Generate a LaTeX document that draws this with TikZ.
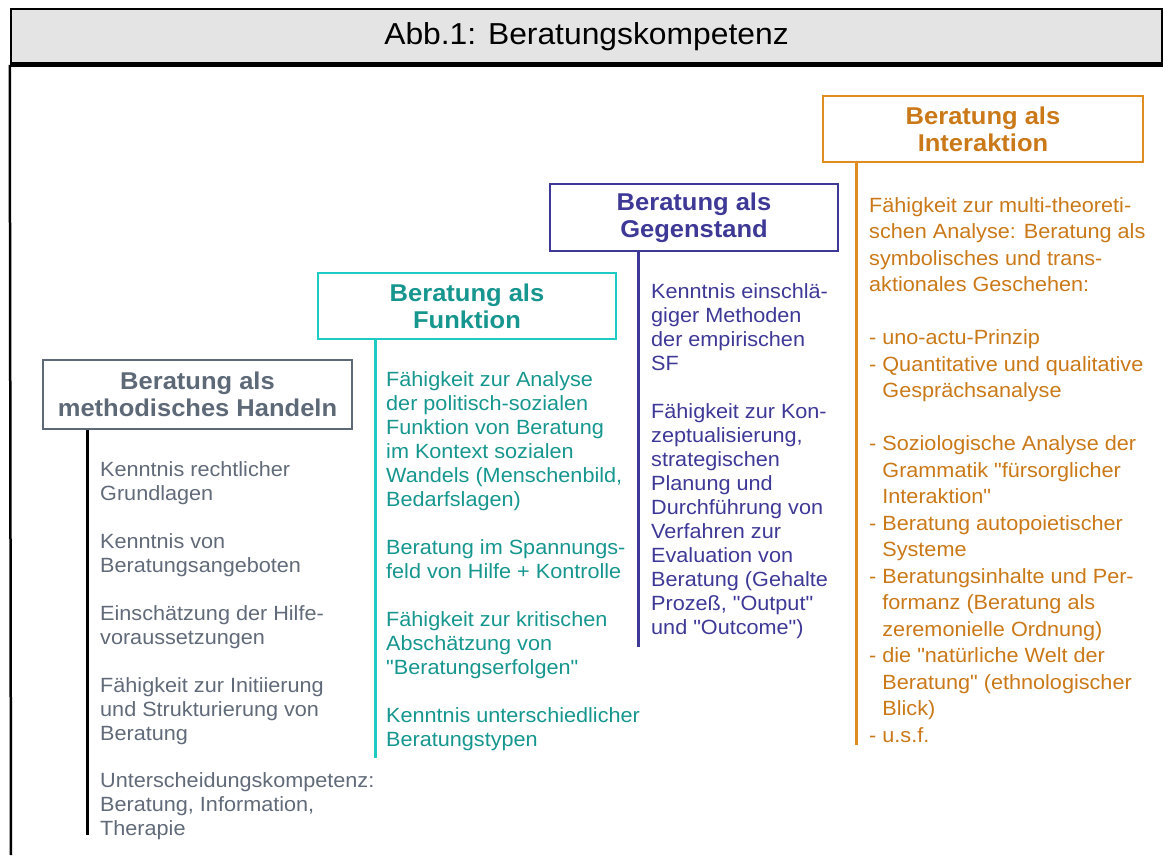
\documentclass[tikz,border=0pt]{standalone}
\usepackage{fontspec}
\setmainfont{Liberation Sans}[FakeStretch=1.05, Ligatures=TeXOff]

\definecolor{grayline}{RGB}{94,105,120}
\definecolor{graytext}{RGB}{96,106,120}
\definecolor{tealline}{RGB}{30,203,195}
\definecolor{tealtext}{RGB}{22,150,142}
\definecolor{purpleline}{RGB}{62,56,150}
\definecolor{orangeline}{RGB}{224,140,32}
\definecolor{orangetext}{RGB}{202,120,24}
\definecolor{titlefill}{RGB}{228,228,228}

\newcommand{\hangin}{\phantom{-\ }}

\tikzset{
	heading/.style={draw, line width=2.5pt, align=center, inner sep=0pt, font=\bfseries\fontsize{24.3}{27}\selectfont},
	comp/.style={anchor=north west, inner sep=0pt, align=left, font=\fontsize{20.6}{24}\selectfont, execute at begin node=\rule{0pt}{15.5pt}},
	widecomp/.style={comp, font=\fontsize{20.6}{26.5}\selectfont},
	stem/.style={line width=3pt}
}

\begin{document}
\begin{tikzpicture}[x=1pt, y=-1pt]
	\useasboundingbox (0,0) rectangle (1164,855);
	
	% frame and title
	\node[draw, line width=2.5pt, fill=titlefill, minimum width=1151pt, minimum height=54.5pt, inner sep=0pt, font=\fontsize{30.3}{34}\selectfont] (title) at (586.5,36.25) {Abb.1: Beratungskompetenz};
	\coordinate (frame_end) at (11,855);
	\draw[line width=2.5pt] (title.south west) -- (frame_end);
	\draw[line width=4.5pt] (title.south west) -- (title.south east);
	
	% the four headings
	\node[heading, draw=grayline, text=grayline, minimum width=309pt, minimum height=69pt] (handeln) at (197.5,394.5) {Beratung als\\methodisches Handeln};
	\node[heading, draw=tealline, text=tealtext, minimum width=298pt, minimum height=66pt] (funktion) at (467,306) {Beratung als\\Funktion};
	\node[heading, draw=purpleline, text=purpleline, minimum width=288pt, minimum height=67pt] (gegenstand) at (694,217.5) {Beratung als\\Gegenstand};
	\node[heading, draw=orangeline, text=orangetext, minimum width=320pt, minimum height=66pt] (interaktion) at (983,129) {Beratung als\\Interaktion};
	
	% stems
	\coordinate (handeln_end) at (87.5,835);
	\coordinate (funktion_end) at (375,758);
	\coordinate (gegenstand_end) at (638,647);
	\coordinate (interaktion_end) at (856,745);
	\draw[stem, black] (handeln.south -| handeln_end) -- (handeln_end);
	\draw[stem, tealline] (funktion.south -| funktion_end) -- (funktion_end);
	\draw[stem, purpleline] (gegenstand.south -| gegenstand_end) -- (gegenstand_end);
	\draw[stem, orangeline] (interaktion.south -| interaktion_end) -- (interaktion_end);
	
	% methodisches Handeln
	\node[comp, text=graytext] (h1) at (100,461) {Kenntnis rechtlicher\\Grundlagen};
	\node[comp, text=graytext] (h2) at (100,533) {Kenntnis von\\Beratungsangeboten};
	\node[comp, text=graytext] (h3) at (100,605) {Einschätzung der Hilfe-\\voraussetzungen};
	\node[comp, text=graytext] (h4) at (100,677) {Fähigkeit zur Initiierung\\und Strukturierung von\\Beratung};
	\node[comp, text=graytext] (h5) at (100,772) {Unterscheidungskompetenz:\\Beratung, Information,\\Therapie};
	
	% Funktion
	\node[comp, text=tealtext] (f1) at (386,371) {Fähigkeit zur Analyse\\der politisch-sozialen\\Funktion von Beratung\\im Kontext sozialen\\Wandels (Menschenbild,\\Bedarfslagen)};
	\node[comp, text=tealtext] (f2) at (386,539) {Beratung im Spannungs-\\feld von Hilfe + Kontrolle};
	\node[comp, text=tealtext] (f3) at (386,611) {Fähigkeit zur kritischen\\Abschätzung von\\"Beratungserfolgen"};
	\node[comp, text=tealtext] (f4) at (386,707) {Kenntnis unterschiedlicher\\Beratungstypen};
	
	% Gegenstand
	\node[comp, text=purpleline] (g1) at (651,283) {Kenntnis einschlä-\\giger Methoden\\der empirischen\\SF};
	\node[comp, text=purpleline] (g2) at (651,403) {Fähigkeit zur Kon-\\zeptualisierung,\\strategischen\\Planung und\\Durchführung von\\Verfahren zur\\Evaluation von\\Beratung (Gehalte\\Prozeß, "Output"\\und "Outcome")};
	
	% Interaktion
	\node[widecomp, text=orangetext] (i1) at (869,197) {Fähigkeit zur multi-theoreti-\\schen Analyse: Beratung als\\symbolisches und trans-\\aktionales Geschehen:};
	\node[widecomp, text=orangetext] (i2) at (869,329.5) {- uno-actu-Prinzip\\- Quantitative und qualitative\\\hangin Gesprächsanalyse\\[26.5pt]- Soziologische Analyse der\\\hangin Grammatik "fürsorglicher\\\hangin Interaktion"\\- Beratung autopoietischer\\\hangin Systeme\\- Beratungsinhalte und Per-\\\hangin formanz (Beratung als\\\hangin zeremonielle Ordnung)\\- die "natürliche Welt der\\\hangin Beratung" (ethnologischer\\\hangin Blick)\\- u.s.f.};
\end{tikzpicture}
\end{document}
